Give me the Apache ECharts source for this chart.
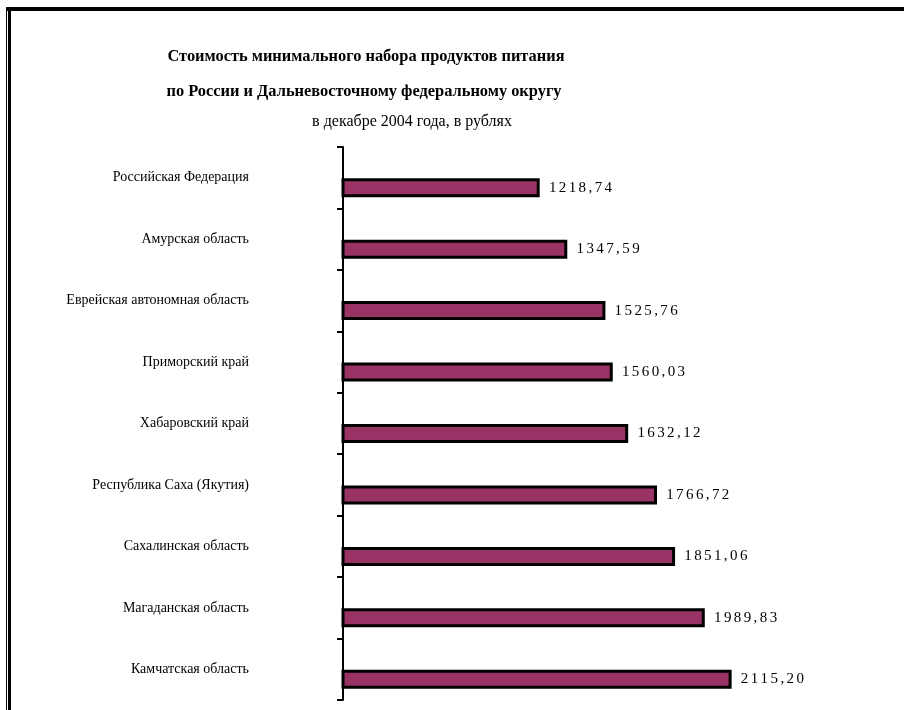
<!DOCTYPE html>
<html>
<head>
<meta charset="utf-8">
<script src="https://cdn.jsdelivr.net/npm/echarts@6/dist/echarts.min.js"></script>
<style>html,body{margin:0;padding:0;background:#fff;}#c{width:904px;height:710px;}</style>
</head>
<body>
<div id="c"></div>
<script>
const categories = ['Российская Федерация','Амурская область','Еврейская автономная область','Приморский край','Хабаровский край','Республика Саха (Якутия)','Сахалинская область','Магаданская область','Камчатская область'];
const values = [1218.74, 1347.59, 1525.76, 1560.03, 1632.12, 1766.72, 1851.06, 1989.83, 2115.20];
const valueLabels = ['1218,74','1347,59','1525,76','1560,03','1632,12','1766,72','1851,06','1989,83','2115,20'];
const titleLines = ['Стоимость минимального набора продуктов питания','по России и Дальневосточному федеральному округу','в декабре 2004 года, в рублях'];

const FONT = "'Liberation Serif', 'Times New Roman', serif";
const chart = echarts.init(document.getElementById('c'));
chart.setOption({
  animation: false,
  backgroundColor: '#fff',
  graphic: [
    {type:'rect', shape:{x:6, y:7, width:898, height:4}, style:{fill:'#000'}},
    {type:'rect', shape:{x:6, y:7, width:1, height:703}, style:{fill:'#000'}},
    {type:'rect', shape:{x:8, y:7, width:3, height:703}, style:{fill:'#000'}},
    {type:'text', style:{text:titleLines[0], x:366, y:57, textAlign:'center', textVerticalAlign:'middle', font:'bold 16.4px ' + FONT, fill:'#000'}},
    {type:'text', style:{text:titleLines[1], x:364, y:92, textAlign:'center', textVerticalAlign:'middle', font:'bold 16.4px ' + FONT, fill:'#000'}},
    {type:'text', style:{text:titleLines[2], x:412, y:122, textAlign:'center', textVerticalAlign:'middle', font:'16px ' + FONT, fill:'#000'}}
  ],
  grid: [
    {left:343, top:147, bottom:10, width:471},
    {left:343, top:157, bottom:0, width:471}
  ],
  xAxis: [
    {type:'value', gridIndex:0, min:300, max:2500, show:false},
    {type:'value', gridIndex:1, min:300, max:2500, show:false}
  ],
  yAxis: [
    {type:'category', gridIndex:0, data:categories, inverse:true,
     axisLine:{show:true, lineStyle:{color:'#000', width:2}},
     axisTick:{show:true, alignWithLabel:false, length:6, lineStyle:{color:'#000', width:2}},
     axisLabel:{margin:94, fontSize:14, fontFamily:FONT, color:'#000'}},
    {type:'category', gridIndex:1, data:categories, inverse:true, show:false}
  ],
  series: [{
    type:'bar', xAxisIndex:1, yAxisIndex:1, data:values, barWidth:19,
    itemStyle:{color:'#993366', borderColor:'#000', borderWidth:3},
    label:{show:true, position:'right', distance:8,
      formatter: p => valueLabels[p.dataIndex].split('').map(ch => '{d|' + ch + '}').join(''),
      rich:{d:{fontSize:15, fontFamily:FONT, color:'#000', padding:[0,1.2]}}
    }
  }]
});
</script>
</body>
</html>
